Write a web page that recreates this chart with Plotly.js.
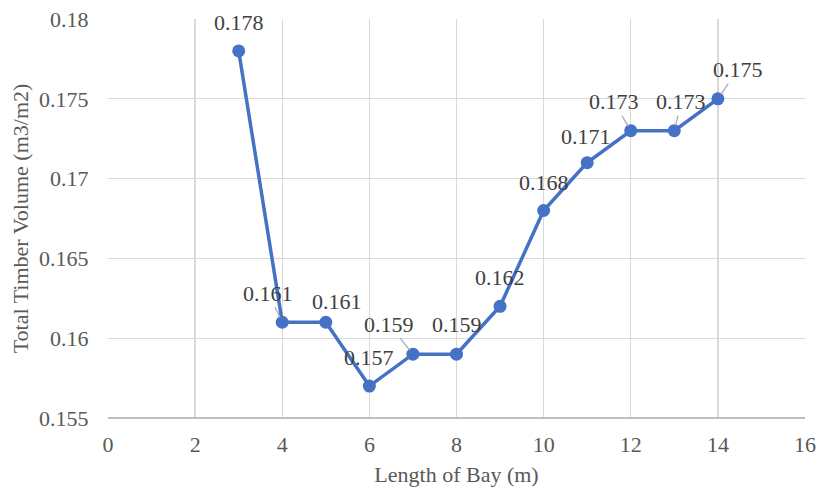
<!DOCTYPE html>
<html>
<head>
<meta charset="utf-8">
<script src="https://cdn.plot.ly/plotly-3.0.1.min.js"></script>
<style>html,body{margin:0;padding:0;background:#fff;}#chart{width:818px;height:489px;}</style>
</head>
<body>
<div id="chart"></div>
<script>
const bayLength = [3, 4, 5, 6, 7, 8, 9, 10, 11, 12, 13, 14];
const timberVolume = [0.178, 0.161, 0.161, 0.157, 0.159, 0.159, 0.162, 0.168, 0.171, 0.173, 0.173, 0.175];
const labelText = ['0.178', '0.161', '0.161', '0.157', '0.159', '0.159', '0.162', '0.168', '0.171', '0.173', '0.173', '0.175'];
const xTicks = [0, 2, 4, 6, 8, 10, 12, 14, 16];
const yTicks = [0.155, 0.16, 0.165, 0.17, 0.175, 0.18];
const yTickText = ['0.155', '0.16', '0.165', '0.17', '0.175', '0.18'];

// label offsets (pixels) and whether a leader line is drawn
const labelDx = [0, -14, 11, 0, -24, 0, 0, 0, -1, -17, 7, 20];
const labelDy = [-28, -29, -21, -29, -30, -30, -29, -28, -26, -29, -29, -29];
const hasLeader = [false, true, false, false, true, false, false, false, false, true, true, true];

const fontFam = 'Liberation Serif, Times New Roman, serif';

const annotations = bayLength.map((x, i) => ({
  x: x, y: timberVolume[i], xref: 'x', yref: 'y',
  text: labelText[i],
  showarrow: true, arrowhead: 0, arrowwidth: 1.2,
  arrowcolor: hasLeader[i] ? '#a6a6a6' : 'rgba(0,0,0,0)',
  standoff: 5,
  ax: labelDx[i], ay: labelDy[i],
  font: {family: fontFam, size: 22, color: '#404040'}
}));

const trace = {
  x: bayLength, y: timberVolume,
  type: 'scatter', mode: 'lines+markers',
  line: {color: '#4472C4', width: 3.5},
  marker: {color: '#4472C4', size: 13},
  hoverinfo: 'x+y'
};

const layout = {
  width: 818, height: 489,
  margin: {l: 108, r: 13, t: 19, b: 71},
  paper_bgcolor: '#fff', plot_bgcolor: '#fff',
  showlegend: false,
  font: {family: fontFam, size: 22, color: '#595959'},
  xaxis: {
    range: [0, 16], tickvals: xTicks, ticktext: xTicks.map(String),
    showgrid: true, gridcolor: '#d9d9d9', gridwidth: 1.3,
    zeroline: false, showline: false,
    ticks: 'outside', ticklen: 7, tickcolor: 'rgba(0,0,0,0)',
    tickfont: {family: fontFam, size: 22, color: '#595959'},
    title: {text: 'Length of Bay (m)', font: {family: fontFam, size: 22, color: '#595959'}, standoff: 10}
  },
  yaxis: {
    range: [0.155, 0.18], tickvals: yTicks, ticktext: yTickText,
    showgrid: true, gridcolor: '#d9d9d9', gridwidth: 1.3,
    zeroline: false, showline: false,
    ticks: 'outside', ticklen: 14, tickcolor: 'rgba(0,0,0,0)',
    tickfont: {family: fontFam, size: 22, color: '#595959'},
    title: {text: 'Total Timber Volume (m3/m2)', font: {family: fontFam, size: 22, color: '#595959'}, standoff: 4}
  },
  shapes: [{
    type: 'line', xref: 'paper', yref: 'paper', x0: 0, x1: 1, y0: 0, y1: 0,
    line: {color: '#bfbfbf', width: 2}
  }],
  annotations: annotations
};

Plotly.newPlot('chart', [trace], layout, {displayModeBar: false, staticPlot: true});
</script>
</body>
</html>
